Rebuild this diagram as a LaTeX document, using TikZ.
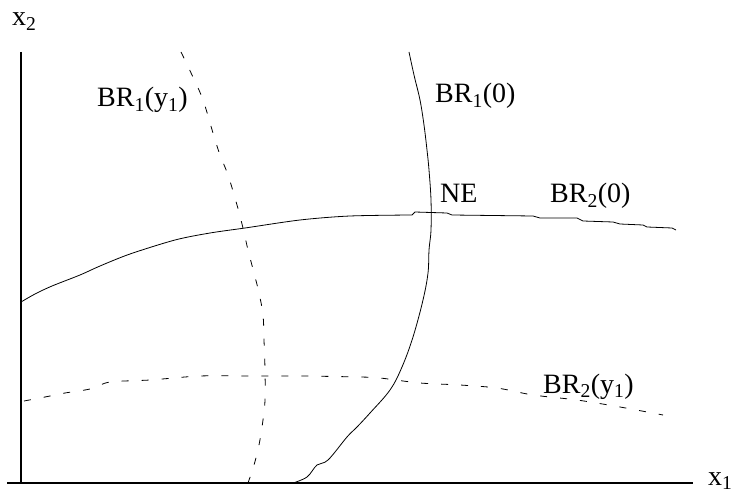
\documentclass[tikz,border=0pt]{standalone}
\usepackage{fontspec}
\setmainfont{Liberation Serif}
\begin{document}
\begin{tikzpicture}[x=1pt,y=-1pt,
  lbl/.style={font=\fontsize{28}{31}\selectfont, inner sep=0pt, anchor=base west},
  axisline/.style={line width=1.2pt},
  curve/.style={line width=0.8pt, line join=round},
  dcurve/.style={curve, dash pattern=on 7pt off 13pt}]
\useasboundingbox (0,0) rectangle (736,497);
% axes
\coordinate (ytop) at (21,52);
\coordinate (orig) at (21,483);
\coordinate (xleft) at (7,483);
\coordinate (xright) at (693,483);
\draw[axisline] (ytop) -- (orig);
\draw[axisline] (xleft) -- (xright);
\node[lbl] (lx2) at (12,26) {x\textsubscript{2}};
\node[lbl] (lx1) at (708,485) {x\textsubscript{1}};
% BR1(y1) dashed
\draw[dcurve] plot[smooth, tension=0.6] coordinates {(181,52) (192,75) (203,100) (213,133) (220,155) (228,175) (237,205) (243,228) (248,250) (254,273) (259,293) (263,315) (264,340) (265,370) (265,400) (263,420) (259,445) (254,465) (248,483)};
% BR1(0) solid
\draw[curve] plot[smooth, tension=0.6] coordinates {(409,52) (414,75) (420,100) (424,125) (427,150) (429,170) (431,200) (431,230) (429,250) (428,273) (423,300) (413,337) (402,367) (390,390) (370,413) (357,427) (347,437) (328,460) (317,465) (307,477) (293,483)};
% BR2(0) solid
\draw[curve] plot[smooth, tension=0.5] coordinates {(21,302) (35,294) (52,286) (80,275) (100,266) (130,254) (175,240) (210,233) (245,228) (300,220) (350,216) (412,215)}
  -- (415,212) -- (447,213) -- (452,215) -- (533,216) -- (540,218) -- (577,218) -- (583,221) -- (613,222) -- (620,224) -- (643,225) -- (647,227) -- (672,228) -- (676,230);
% BR2(y1) dashed
\draw[dcurve] plot[smooth, tension=0.5] coordinates {(24,401) (45,397) (65,393) (90,389) (110,382) (150,380) (200,376) (250,376) (300,376) (360,377) (380,378) (420,383) (460,385) (497,388) (533,395) (577,400) (620,407) (663,415)};
% labels
\node[lbl] (lbr1y) at (97,107) {BR\textsubscript{1}(y\textsubscript{1})};
\node[lbl] (lbr10) at (435,103) {BR\textsubscript{1}(0)};
\node[lbl] (lne) at (440,203) {NE};
\node[lbl] (lbr20) at (550,203) {BR\textsubscript{2}(0)};
\node[lbl] (lbr2y) at (543,393) {BR\textsubscript{2}(y\textsubscript{1})};
\end{tikzpicture}
\end{document}
